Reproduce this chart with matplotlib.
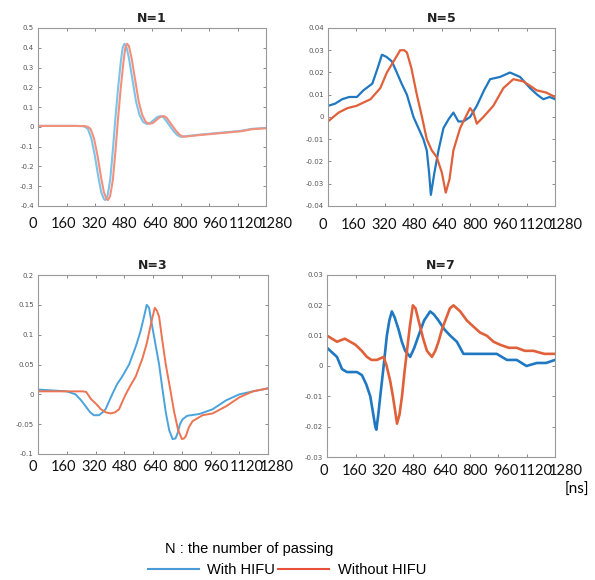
import matplotlib
matplotlib.use("Agg")
import matplotlib.pyplot as plt
import numpy as np

# time axis ticks [ns]
xticks = [0, 160, 320, 480, 640, 800, 960, 1120, 1280]

# N=1
t1_with = [0, 100, 200, 250, 265, 280, 300, 320, 340, 355, 370, 378, 390, 405, 420, 435, 450, 465, 475,
           485, 495, 510, 530, 550, 570, 590, 610, 630, 650, 670, 690, 705, 720, 740, 760, 780, 800,
           850, 900, 960, 1020, 1080, 1140, 1200, 1280]
v1_with = [0.005, 0.005, 0.005, 0.004, 0.0, -0.01, -0.06, -0.15, -0.26, -0.33, -0.365, -0.37, -0.35,
           -0.27, -0.12, 0.05, 0.2, 0.33, 0.40, 0.42, 0.41, 0.35, 0.24, 0.13, 0.06, 0.025, 0.015, 0.02,
           0.035, 0.05, 0.055, 0.048, 0.03, 0.005, -0.02, -0.04, -0.05, -0.045, -0.04, -0.035, -0.03,
           -0.025, -0.02, -0.01, -0.005]
t1_without = [0, 100, 200, 265, 280, 295, 315, 335, 355, 370, 385, 393, 405, 420, 435, 450, 465, 480,
              490, 500, 510, 525, 545, 565, 585, 605, 625, 645, 665, 685, 705, 720, 735, 755, 775, 795,
              815, 850, 900, 960, 1020, 1080, 1140, 1200, 1280]
v1_without = [0.005, 0.005, 0.005, 0.004, 0.0, -0.01, -0.06, -0.15, -0.26, -0.33, -0.365, -0.37, -0.35,
              -0.27, -0.12, 0.05, 0.2, 0.33, 0.40, 0.42, 0.41, 0.35, 0.24, 0.13, 0.06, 0.025, 0.015, 0.02,
              0.035, 0.05, 0.055, 0.048, 0.03, 0.005, -0.02, -0.04, -0.05, -0.047, -0.042, -0.037, -0.032,
              -0.027, -0.022, -0.012, -0.007]

# N=3
t3_with = [0, 160, 209, 240, 265, 290, 311, 339, 360, 376, 395, 413, 440, 469, 507, 544, 570, 590, 605,
           618, 632, 650, 674, 692, 711, 730, 749, 765, 777, 790, 804, 830, 851, 898, 972, 1047, 1121,
           1196, 1280]
v3_with = [0.008, 0.005, 0.0, -0.01, -0.02, -0.03, -0.035, -0.035, -0.03, -0.025, -0.012, 0.0, 0.017,
           0.03, 0.05, 0.08, 0.105, 0.13, 0.15, 0.145, 0.12, 0.09, 0.05, 0.01, -0.03, -0.06, -0.075,
           -0.074, -0.065, -0.05, -0.042, -0.036, -0.035, -0.033, -0.025, -0.01, 0.0, 0.005, 0.01]
t3_without = [0, 160, 250, 268, 295, 320, 350, 376, 404, 430, 451, 470, 488, 515, 544, 581, 605, 630,
              650, 662, 674, 692, 711, 735, 758, 780, 801, 812, 823, 840, 860, 916, 972, 1047, 1121,
              1196, 1280]
v3_without = [0.005, 0.005, 0.005, 0.004, -0.008, -0.015, -0.025, -0.03, -0.032, -0.03, -0.025, -0.012,
              0.0, 0.015, 0.03, 0.06, 0.085, 0.12, 0.145, 0.14, 0.13, 0.09, 0.05, 0.01, -0.03, -0.06,
              -0.075, -0.074, -0.07, -0.055, -0.045, -0.035, -0.032, -0.02, -0.005, 0.005, 0.01]

# N=5
t5_with = [0, 40, 80, 120, 163, 200, 250, 280, 304, 330, 360, 388, 415, 445, 482, 510, 538, 557, 570,
           580, 600, 623, 651, 680, 707, 735, 763, 801, 839, 880, 914, 970, 1026, 1083, 1139, 1180,
           1214, 1250, 1280]
v5_with = [0.005, 0.006, 0.008, 0.009, 0.009, 0.012, 0.015, 0.022, 0.028, 0.027, 0.025, 0.02, 0.015,
           0.01, 0.0, -0.005, -0.01, -0.015, -0.025, -0.035, -0.025, -0.015, -0.005, -0.001, 0.002,
           -0.002, -0.002, 0.0, 0.005, 0.012, 0.017, 0.018, 0.02, 0.018, 0.013, 0.01, 0.008, 0.009,
           0.008]
t5_without = [0, 30, 60, 110, 160, 240, 295, 332, 370, 407, 430, 445, 470, 501, 530, 557, 585, 613, 642,
              664, 685, 707, 745, 801, 820, 839, 876, 932, 989, 1045, 1101, 1140, 1176, 1230, 1280]
v5_without = [-0.002, 0.0, 0.002, 0.004, 0.005, 0.008, 0.013, 0.02, 0.025, 0.03, 0.03, 0.029, 0.022,
              0.01, 0.0, -0.01, -0.015, -0.018, -0.025, -0.034, -0.028, -0.015, -0.005, 0.004, 0.002,
              -0.003, 0.0, 0.005, 0.013, 0.017, 0.016, 0.014, 0.012, 0.011, 0.009]

# N=7
t7_with = [0, 56, 84, 112, 140, 168, 196, 220, 243, 260, 271, 277, 288, 299, 318, 336, 350, 364, 380,
           402, 420, 439, 467, 490, 514, 545, 579, 600, 626, 660, 692, 729, 766, 800, 841, 900, 953,
           1010, 1065, 1120, 1178, 1230, 1280]
v7_with = [0.006, 0.003, -0.001, -0.002, -0.002, -0.002, -0.003, -0.006, -0.01, -0.016, -0.02, -0.021,
           -0.016, -0.01, 0.0, 0.01, 0.015, 0.018, 0.016, 0.012, 0.008, 0.005, 0.003, 0.006, 0.01,
           0.015, 0.018, 0.017, 0.015, 0.012, 0.01, 0.008, 0.004, 0.004, 0.004, 0.004, 0.004, 0.002,
           0.002, 0.0, 0.001, 0.001, 0.002]
t7_without = [0, 56, 100, 130, 160, 195, 224, 250, 280, 318, 335, 355, 370, 383, 393, 407, 421, 435,
              449, 465, 482, 497, 514, 540, 561, 589, 608, 626, 645, 664, 690, 710, 748, 785, 822, 860,
              897, 935, 972, 1020, 1065, 1110, 1159, 1220, 1280]
v7_without = [0.01, 0.008, 0.009, 0.008, 0.007, 0.005, 0.003, 0.002, 0.002, 0.003, 0.0, -0.005, -0.01,
              -0.015, -0.019, -0.016, -0.01, -0.002, 0.005, 0.013, 0.02, 0.019, 0.015, 0.009, 0.005,
              0.003, 0.005, 0.008, 0.012, 0.015, 0.019, 0.02, 0.018, 0.015, 0.013, 0.011, 0.01, 0.008,
              0.007, 0.006, 0.006, 0.005, 0.005, 0.004, 0.004]

panels = [
    ("N=1", t1_with, v1_with, t1_without, v1_without, (-0.4, 0.5),
     [-0.4, -0.3, -0.2, -0.1, 0, 0.1, 0.2, 0.3, 0.4, 0.5],
     ["-0.4", "-0.3", "-0.2", "-0.1", "0", "0.1", "0.2", "0.3", "0.4", "0.5"]),
    ("N=5", t5_with, v5_with, t5_without, v5_without, (-0.04, 0.04),
     [-0.04, -0.03, -0.02, -0.01, 0, 0.01, 0.02, 0.03, 0.04],
     ["-0.04", "-0.03", "-0.02", "-0.01", "0", "0.01", "0.02", "0.03", "0.04"]),
    ("N=3", t3_with, v3_with, t3_without, v3_without, (-0.1, 0.2),
     [-0.1, -0.05, 0, 0.05, 0.1, 0.15, 0.2],
     ["-0.1", "-0.05", "0", "0.05", "0.1", "0.15", "0.2"]),
    ("N=7", t7_with, v7_with, t7_without, v7_without, (-0.03, 0.03),
     [-0.03, -0.02, -0.01, 0, 0.01, 0.02, 0.03],
     ["-0.03", "-0.02", "-0.01", "0", "0.01", "0.02", "0.03"]),
]

# axes rectangles in figure fraction (595 x 580 px)
rects = [
    [38 / 595, 1 - 206 / 580, 228 / 595, 178 / 580],
    [328 / 595, 1 - 206 / 580, 227 / 595, 178 / 580],
    [38 / 595, 1 - 454 / 580, 230 / 595, 179 / 580],
    [327 / 595, 1 - 457 / 580, 228 / 595, 182 / 580],
]
# the time labels in the source are pasted a bit wider than the tick spacing:
# (first centre, last centre, y) in axes fraction
label_span = [
    (-0.022, 1.044, -0.10),
    (-0.022, 1.048, -0.105),
    (-0.022, 1.039, -0.072),
    (-0.013, 1.048, -0.075),
]
colors = [
    ("#7cc3ea", "#f3907c", 1.5),
    ("#1f78c1", "#e0603a", 1.6),
    ("#4aa3dc", "#ee7350", 1.4),
    ("#1f78c1", "#e0603a", 1.9),
]
tick_font = "Lato"

fig = plt.figure(figsize=(5.95, 5.8), dpi=100)

for (title, tw, vw, to, vo, ylim, yt, ytl), rect, (cw, co, lw), (x0, x1, ly) in zip(
        panels, rects, colors, label_span):
    ax = fig.add_axes(rect)
    ax.plot(tw, vw, color=cw, lw=lw)
    ax.plot(to, vo, color=co, lw=lw)
    ax.set_xlim(0, 1280)
    ax.set_ylim(*ylim)
    ax.set_xticks(xticks)
    ax.set_xticklabels([])
    for xl, lab in zip(np.linspace(x0, x1, len(xticks)), xticks):
        ax.text(xl, ly, str(lab), transform=ax.transAxes, ha="center", va="center",
                fontsize=10.5, family=tick_font, color="#111111")
    ax.set_yticks(yt)
    ax.set_yticklabels(ytl, fontsize=5, color="#555555")
    ax.tick_params(direction="in", top=True, right=True, length=2.5, width=0.6, color="#777777")
    ax.tick_params(axis="y", pad=3)
    for s in ax.spines.values():
        s.set_color("#999999")
        s.set_linewidth(0.8)
    ax.set_title(title, fontsize=9, fontweight="bold", pad=4, color="#222222")

fig.text(577 / 595, 1 - 490 / 580, "[ns]", fontsize=11, family=tick_font, ha="center", va="center")
fig.text(249 / 595, 1 - 549 / 580, "N : the number of passing", fontsize=10.5,
         family="Liberation Sans", ha="center", va="center")
h1, = plt.plot([], [], color="#4a9ad8", lw=1.5)
h2, = plt.plot([], [], color="#e8503a", lw=1.5)
fig.legend([h1, h2], ["With HIFU", "Without HIFU"], loc="center", ncol=2,
           bbox_to_anchor=(287 / 595, 1 - 570 / 580), frameon=False, handlelength=3.5,
           handletextpad=0.6, columnspacing=0.2, prop={"family": "Liberation Sans", "size": 10.5})

fig.savefig("out.png", dpi=100)
